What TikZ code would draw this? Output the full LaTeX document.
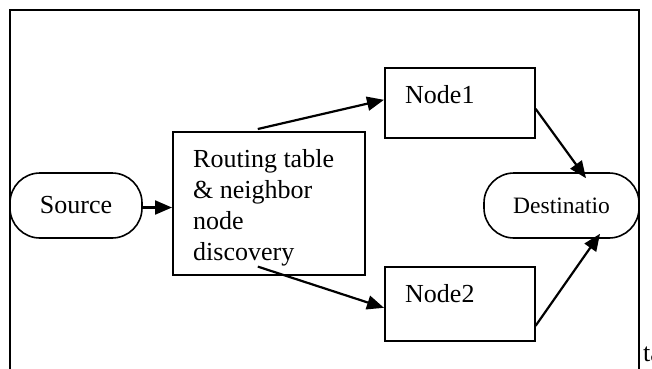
\documentclass[tikz,border=0pt]{standalone}
\usepackage{fontspec}
\setmainfont{Liberation Serif}
\usetikzlibrary{arrows.meta}

\tikzset{
  box/.style={draw, line width=1.6pt, rectangle, inner sep=0pt, anchor=north west},
  terminal/.style={draw, line width=1.6pt, rounded corners=30pt, inner sep=0pt,
    font=\fontsize{26}{31}\selectfont},
  label text/.style={inner sep=0pt, anchor=base west, align=left,
    font=\fontsize{26}{31}\selectfont},
  flow/.style={line width=2.2pt, -{Triangle[length=17pt,width=14pt]}},
}

\begin{document}
\begin{tikzpicture}[x=1pt, y=-1pt]
  \useasboundingbox (0,0) rectangle (652,368);
  \clip (0,0) rectangle (652,368);

  % outer frame
  \draw[line width=1.6pt] (10,395) -- (10,10) -- (639,10) -- (639,395);

  % terminals
  \node[terminal, minimum width=132pt, minimum height=65pt] (src) at (76,205.5) {Source};
  \node[terminal, minimum width=155pt, minimum height=65pt,
        font=\fontsize{23.5}{28}\selectfont] (dst) at (561.5,205.5) {Destinatio};

  % process boxes
  \node[box, minimum width=192pt, minimum height=143pt] (rt) at (172,131) {};
  % anchored on the baseline of the last line
  \node[label text] (rtlab) at (193,260) {Routing table\\\& neighbor\\node\\discovery};

  \node[box, minimum width=150pt, minimum height=70pt] (n1) at (384,67) {};
  \node[label text] (n1lab) at ([xshift=21pt,yshift=-36pt]n1.north west) {Node1};

  \node[box, minimum width=150pt, minimum height=74pt] (n2) at (384,266) {};
  \node[label text] (n2lab) at ([xshift=21pt,yshift=-36pt]n2.north west) {Node2};

  % text running past the right edge
  \node[label text] (tail) at (643,361) {ta};

  % connectors
  \coordinate (rtTop) at ([xshift=-11pt,yshift=2pt]rt.north);
  \coordinate (rtLow) at ([xshift=-11pt,yshift=9pt]rt.south);
  \coordinate (n1Out) at ([yshift=-6pt]n1.east);
  \coordinate (n2Out) at ([yshift=-22pt]n2.east);
  \coordinate (dstTop) at ([xshift=24.5pt,yshift=-6pt]dst.north);
  \coordinate (dstBot) at ([xshift=38.5pt,yshift=5pt]dst.south);

  \draw[flow] ([yshift=-2pt]src.east) -- ([yshift=-2pt]src.east -| rt.west);
  \draw[flow] (rtTop) -- ([yshift=3pt]n1.west);
  \draw[flow] (rtLow) -- ([yshift=-4pt]n2.west);
  \draw[flow] (n1Out) -- (dstTop);
  \draw[flow] (n2Out) -- (dstBot);
\end{tikzpicture}
\end{document}
